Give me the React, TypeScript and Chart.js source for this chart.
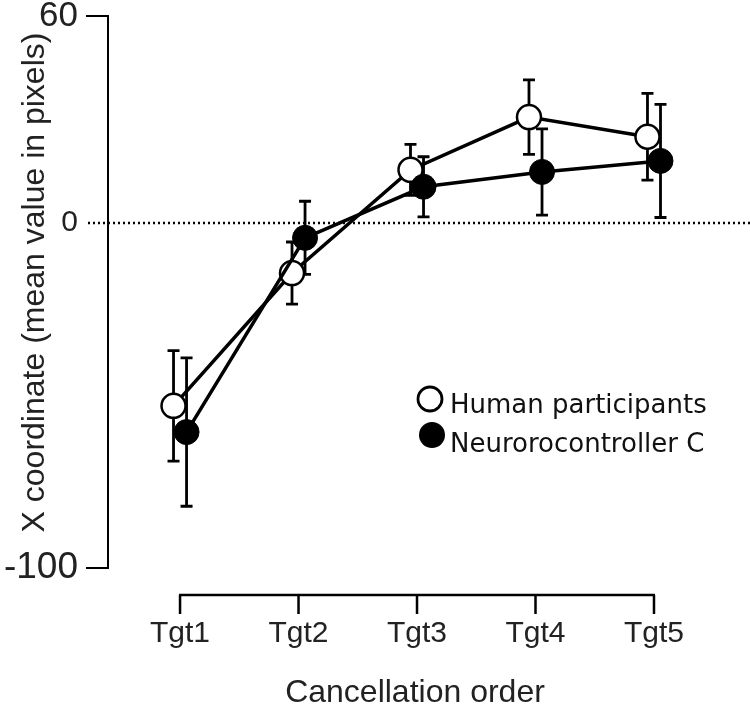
import React, { useEffect, useRef } from 'react';
import { Chart, registerables } from 'chart.js';
Chart.register(...registerables);

const categories = ['Tgt1', 'Tgt2', 'Tgt3', 'Tgt4', 'Tgt5'];
const humanMean = [-53, -14.5, 15.4, 30.7, 25];
const humanErr = [16, 9, 7.4, 10.8, 12.6];
const neuroMean = [-60.6, -4.3, 10.5, 14.8, 18];
const neuroErr = [21.5, 10.6, 8.7, 12.5, 16.4];
const yTicks = [60, 0, -100];
const seriesNames = ['Human participants', 'Neurorocontroller C'];
const xTitle = 'Cancellation order';
const yTitle = 'X coordinate (mean value in pixels)';
const dodge = 0.055;

const SANS = "'Liberation Sans', Arial, sans-serif";
const DEJAVU = "'DejaVu Sans', sans-serif";

const errorBarPlugin = {
  id: 'errorBars',
  beforeDatasetsDraw(chart: any) {
    const { ctx, scales } = chart;
    const x = scales.x;
    const y = scales.y;
    // dotted zero line
    ctx.save();
    ctx.strokeStyle = '#000';
    ctx.lineWidth = 2.5;
    ctx.setLineDash([2, 3]);
    const y0 = y.getPixelForValue(0);
    ctx.beginPath();
    ctx.moveTo(88, y0);
    ctx.lineTo(chart.width, y0);
    ctx.stroke();
    ctx.restore();

    ctx.save();
    ctx.strokeStyle = '#000';
    ctx.lineWidth = 2.8;
    const groups: [number[], number[], number][] = [
      [humanMean, humanErr, -dodge],
      [neuroMean, neuroErr, dodge],
    ];
    groups.forEach(([m, e, o]) => {
      m.forEach((v, i) => {
        const px = x.getPixelForValue(i + 1 + o);
        const top = y.getPixelForValue(v + e[i]);
        const bot = y.getPixelForValue(v - e[i]);
        ctx.beginPath();
        ctx.moveTo(px, top);
        ctx.lineTo(px, bot);
        ctx.moveTo(px - 6, top);
        ctx.lineTo(px + 6, top);
        ctx.moveTo(px - 6, bot);
        ctx.lineTo(px + 6, bot);
        ctx.stroke();
      });
    });
    ctx.restore();
  },
  afterDraw(chart: any) {
    const { ctx, scales, chartArea } = chart;
    const x = scales.x;
    // detached x axis
    const ay = chartArea.bottom + 27;
    const x1 = x.getPixelForValue(1);
    const x5 = x.getPixelForValue(categories.length);
    ctx.save();
    ctx.strokeStyle = '#000';
    ctx.lineWidth = 2.5;
    ctx.beginPath();
    ctx.moveTo(x1 - 1, ay);
    ctx.lineTo(x5 + 1, ay);
    categories.forEach((_, i) => {
      const px = x.getPixelForValue(i + 1);
      ctx.moveTo(px, ay);
      ctx.lineTo(px, ay + 19);
    });
    ctx.stroke();
    ctx.restore();

    // y title
    ctx.save();
    ctx.translate(43.5, 282.5);
    ctx.rotate(-Math.PI / 2);
    ctx.font = `32px ${SANS}`;
    ctx.fillStyle = '#222';
    ctx.textAlign = 'center';
    ctx.textBaseline = 'alphabetic';
    ctx.fillText(yTitle, 0, 0);
    ctx.restore();

    // legend
    ctx.save();
    ctx.lineWidth = 2.8;
    ctx.strokeStyle = '#000';
    ctx.fillStyle = '#fff';
    ctx.beginPath();
    ctx.arc(430, 399, 12, 0, Math.PI * 2);
    ctx.fill();
    ctx.stroke();
    ctx.fillStyle = '#000';
    ctx.beginPath();
    ctx.arc(432, 435, 13, 0, Math.PI * 2);
    ctx.fill();
    ctx.font = `26px ${DEJAVU}`;
    ctx.fillStyle = '#111';
    ctx.textAlign = 'left';
    ctx.textBaseline = 'alphabetic';
    ctx.fillText(seriesNames[0], 450, 413);
    ctx.fillText(seriesNames[1], 450, 452);
    ctx.restore();
  },
};

export default function App() {
  const ref = useRef<HTMLCanvasElement | null>(null);
  useEffect(() => {
    document.body.style.margin = '0';
    const canvas = ref.current;
    if (!canvas) return;
    const chart = new Chart(canvas, {
      type: 'line',
      data: {
        datasets: [
          {
            label: seriesNames[0],
            data: humanMean.map((v, i) => ({ x: i + 1 - dodge, y: v })),
            borderColor: '#000',
            borderWidth: 3.5,
            pointRadius: 12,
            pointBackgroundColor: '#fff',
            pointBorderColor: '#000',
            pointBorderWidth: 2.5,
            order: 1,
          },
          {
            label: seriesNames[1],
            data: neuroMean.map((v, i) => ({ x: i + 1 + dodge, y: v })),
            borderColor: '#000',
            borderWidth: 3.5,
            pointRadius: 12.5,
            pointBackgroundColor: '#000',
            pointBorderColor: '#000',
            pointBorderWidth: 1,
            order: 0,
          },
        ],
      },
      options: {
        responsive: false,
        animation: false,
        events: [],
        layout: { padding: { top: 16, right: 28, left: 0, bottom: 0 } },
        plugins: { legend: { display: false }, tooltip: { enabled: false } },
        scales: {
          x: {
            type: 'linear',
            min: 0.392,
            max: 5.574,
            afterFit: (s: any) => {
              s.height = 141;
              s.paddingLeft = 0;
              s.paddingRight = 0;
            },
            afterBuildTicks: (s: any) => {
              s.ticks = categories.map((_, i) => ({ value: i + 1 }));
            },
            grid: { display: false, drawTicks: false },
            border: { display: false },
            ticks: {
              padding: 48,
              maxRotation: 0,
              autoSkip: false,
              color: '#222',
              font: { family: SANS, size: 30 },
              callback: (v: any) => categories[Math.round(Number(v)) - 1] ?? '',
            },
            title: {
              display: true,
              text: xTitle,
              color: '#222',
              font: { family: SANS, size: 32, lineHeight: 1 },
              padding: { top: 0, bottom: 0 },
            },
          },
          y: {
            min: -100,
            max: 60,
            afterFit: (s: any) => {
              s.width = 108;
              s.paddingTop = 0;
              s.paddingBottom = 0;
            },
            afterBuildTicks: (s: any) => {
              s.ticks = yTicks.map((v) => ({ value: v }));
            },
            grid: {
              drawOnChartArea: false,
              drawTicks: true,
              tickLength: 22,
              lineWidth: 2,
              color: '#000',
              tickColor: (c: any) => (c.tick && c.tick.value === 0 ? 'rgba(0,0,0,0)' : '#000'),
            },
            border: { display: true, color: '#000', width: 2 },
            ticks: {
              padding: 8,
              color: '#222',
              font: (c: any) => {
                const v = c.tick ? c.tick.value : 0;
                return { family: SANS, size: v === 0 ? 30 : v === 60 ? 35 : 37 };
              },
              callback: (v: any) => String(v),
            },
            title: { display: false },
          },
        },
      },
      plugins: [errorBarPlugin],
    } as any);
    return () => chart.destroy();
  }, []);
  return <canvas ref={ref} width={750} height={709} style={{ display: 'block' }} />;
}
